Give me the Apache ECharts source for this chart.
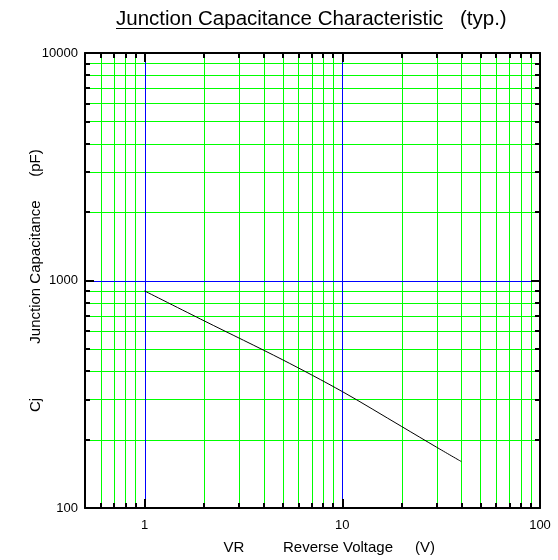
<!DOCTYPE html>
<html>
<head>
<meta charset="utf-8">
<script src="https://cdn.jsdelivr.net/npm/echarts@6/dist/echarts.min.js"></script>
<style>
  html, body { margin: 0; padding: 0; background: #fff; }
  #main { width: 558px; height: 560px; }
</style>
</head>
<body>
<div id="main"></div>
<script>
// reverse voltage (V) and junction capacitance (pF)
var voltage = [1, 2, 5, 10, 20, 30, 40]
var capacitance = [900, 665, 448, 325, 228, 185, 160]

// axis ranges
var xRange = [0.5, 100]
var yRange = [100, 10000]

// tick / grid values
var majorX = [1, 10]
var labelX = [1, 10, 100]
var minorX = [0.6, 0.7, 0.8, 0.9, 2, 3, 4, 5, 6, 7, 8, 9, 20, 30, 40, 50, 60, 70, 80, 90]
var majorY = [1000]
var labelY = [100, 1000, 10000]
var minorY = [200, 300, 400, 500, 600, 700, 800, 900, 2000, 3000, 4000, 5000, 6000, 7000, 8000, 9000]

var FONT = '"Liberation Sans", Arial, sans-serif'
var GREEN = '#00ff00'
var BLUE = '#0000ff'

var myChart = echarts.init(document.getElementById('main'))

// one log axis; line/ticks/labels switched on per use
function logAxis (range, position, opts) {
  return {
    type: 'log',
    logBase: 10,
    min: range[0],
    max: range[1],
    position: position,
    axisLine: { show: !!opts.line, onZero: false, lineStyle: { color: '#000', width: 2 } },
    axisTick: {
      show: true,
      inside: true,
      length: opts.tickLen,
      customValues: opts.ticks,
      lineStyle: { color: '#000', width: 2 }
    },
    splitLine: { show: false },
    minorSplitLine: { show: false },
    axisLabel: opts.labels ? {
      show: true,
      customValues: opts.labels,
      margin: opts.margin,
      color: '#000',
      fontSize: 13,
      fontFamily: FONT,
      formatter: function (v) { return String(Math.round(v)) }
    } : { show: false }
  }
}

var titleText = 'Junction Capacitance Characteristic'
var titleFont = '20.5px ' + FONT
var measure = document.createElement('canvas').getContext('2d')
measure.font = titleFont
var titleWidth = measure.measureText(titleText).width

var labelFont = '15px ' + FONT
function label (text, x, y, rotated) {
  return {
    type: 'text',
    x: x,
    y: y,
    rotation: rotated ? Math.PI / 2 : 0,
    style: { text: text, font: labelFont, fill: '#000', align: 'center', verticalAlign: 'middle' }
  }
}

var texts = [
  {
    type: 'text', x: 116, y: 19,
    style: { text: titleText, font: titleFont, fill: '#000', verticalAlign: 'middle' }
  },
  {
    type: 'rect', x: 116, y: 28,
    shape: { width: titleWidth, height: 1 },
    style: { fill: '#000' }
  },
  {
    type: 'text', x: 460, y: 19,
    style: { text: '(typ.)', font: titleFont, fill: '#000', verticalAlign: 'middle' }
  },
  label('VR', 234, 548),
  label('Reverse Voltage', 338, 548),
  label('(V)', 425, 548),
  label('Cj', 36, 405, true),
  label('Junction Capacitance', 36, 272, true),
  label('(pF)', 36, 163, true)
]

var option = {
  backgroundColor: '#fff',
  animation: false,
  textStyle: { fontFamily: FONT },
  grid: { left: 85, right: 18, top: 53, bottom: 52, containLabel: false },
  xAxis: [
    logAxis(xRange, 'bottom', { ticks: minorX, tickLen: 5 }),
    logAxis(xRange, 'bottom', { line: true, ticks: majorX, tickLen: 9, labels: labelX, margin: 11 }),
    logAxis(xRange, 'top', { ticks: minorX, tickLen: 5 }),
    logAxis(xRange, 'top', { line: true, ticks: majorX, tickLen: 9 })
  ],
  yAxis: [
    logAxis(yRange, 'left', { ticks: minorY, tickLen: 5 }),
    logAxis(yRange, 'left', { line: true, ticks: majorY, tickLen: 9, labels: labelY, margin: 7 }),
    logAxis(yRange, 'right', { ticks: minorY, tickLen: 5 }),
    logAxis(yRange, 'right', { line: true, ticks: majorY, tickLen: 9 })
  ],
  series: [
    {
      type: 'line',
      xAxisIndex: 1,
      yAxisIndex: 1,
      z: 5,
      showSymbol: false,
      silent: true,
      smooth: 0.3,
      lineStyle: { color: '#000', width: 1 },
      data: voltage.map(function (v, i) { return [v, capacitance[i]] })
    }
  ]
}

myChart.setOption(option, true)

// grid lines placed with the chart's own log scales, snapped to whole pixels
function px (axis, v) {
  var finder = {}
  finder[axis] = 0
  return myChart.convertToPixel(finder, v)
}
var plotLeft = px('xAxisIndex', xRange[0])
var plotRight = px('xAxisIndex', xRange[1])
var plotBottom = px('yAxisIndex', yRange[0])
var plotTop = px('yAxisIndex', yRange[1])

var gridLines = []
function vLine (v, color, z2) {
  var x = Math.round(px('xAxisIndex', v)) + 0.5
  gridLines.push({ type: 'line', z: -1, z2: z2, silent: true, shape: { x1: x, y1: plotTop, x2: x, y2: plotBottom }, style: { stroke: color, lineWidth: 1 } })
}
function hLine (v, color, z2) {
  var y = Math.round(px('yAxisIndex', v)) + 0.5
  gridLines.push({ type: 'line', z: -1, z2: z2, silent: true, shape: { x1: plotLeft, y1: y, x2: plotRight, y2: y }, style: { stroke: color, lineWidth: 1 } })
}
minorX.forEach(function (v) { vLine(v, GREEN, 1) })
minorY.forEach(function (v) { hLine(v, GREEN, 1) })
majorX.forEach(function (v) { vLine(v, BLUE, 2) })
majorY.forEach(function (v) { hLine(v, BLUE, 2) })

myChart.setOption({ graphic: texts.concat(gridLines) })
</script>
</body>
</html>
